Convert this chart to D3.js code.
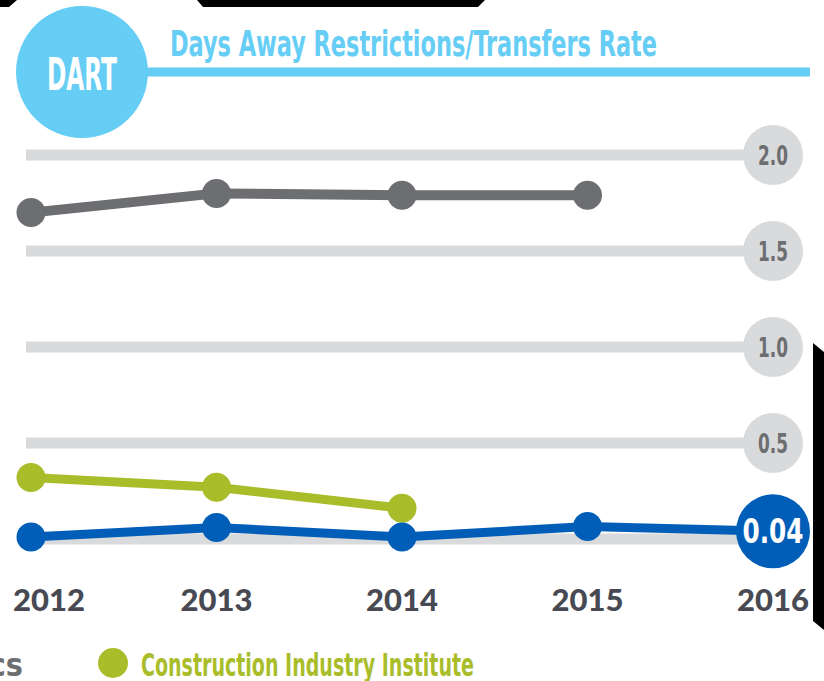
<!DOCTYPE html>
<html><head><meta charset="utf-8">
<script src="https://cdn.jsdelivr.net/npm/d3@7/dist/d3.min.js"></script>
<style>
html,body{margin:0;padding:0;background:#fff;overflow:hidden;}
svg{display:block;}
.cond{font-family:"Liberation Sans Narrow","DejaVu Sans Condensed","Roboto Condensed","Arial Narrow",sans-serif;font-stretch:condensed;font-weight:bold;}
</style></head>
<body><svg id="c" width="824" height="681"></svg>
<script>
const years = [2012, 2013, 2014, 2015, 2016];
const tickValues = [0, 0.5, 1.0, 1.5, 2.0];
const tickLabels = ["", "0.5", "1.0", "1.5", "2.0"];
const blsValues = [1.70, 1.80, 1.79, 1.79];          // Bureau of Labor Statistics (2012-2015)
const ciiValues = [0.32, 0.27, 0.16];                // Construction Industry Institute (2012-2014)
const companyValues = [0.01, 0.06, 0.01, 0.065, 0.04]; // company DART (2012-2016)
const seriesNames = ["Bureau of Labor Statistics", "Construction Industry Institute"];
const title = "Days Away Restrictions/Transfers Rate";
const badgeLabel = "DART";
const latestLabel = "0.04";

const C = {lightBlue:"#66cdf5", grid:"#d9dadc", gray:"#6d6e71", green:"#a9bd2a", blue:"#005eb8", axis:"#474a52"};

const svg = d3.select("#c");
const x = d3.scaleLinear().domain([2012, 2016]).range([31, 773]);
const y = d3.scaleLinear().domain([0, 2]).range([539, 155]);

// decorative dark crop edges
svg.append("path").attr("d","M0,0 L17,0 L9,7 L0,7Z").attr("fill","#000");
svg.append("path").attr("d","M197,0 L485,0 L478,7 L203,7Z").attr("fill","#000");
svg.append("path").attr("d","M813,343 L824,352 L824,630 L813,621Z").attr("fill","#000");

// header
svg.append("line").attr("x1",140).attr("x2",810).attr("y1",72).attr("y2",72)
  .attr("stroke",C.lightBlue).attr("stroke-width",9);
svg.append("circle").attr("cx",82).attr("cy",72).attr("r",66).attr("fill",C.lightBlue);
svg.append("text").attr("class","cond").attr("x",82).attr("y",90).attr("text-anchor","middle")
  .attr("font-size",45).attr("fill","#fff").attr("textLength",70).attr("lengthAdjust","spacingAndGlyphs").text(badgeLabel);
svg.append("text").attr("class","cond").attr("x",170).attr("y",56)
  .attr("font-size",36).attr("fill",C.lightBlue).attr("textLength",487).attr("lengthAdjust","spacingAndGlyphs").text(title);

// gridlines + badges
const grid = svg.append("g");
tickValues.forEach((v,i)=>{
  grid.append("line").attr("x1",26).attr("x2",x(2016)).attr("y1",y(v)).attr("y2",y(v))
    .attr("stroke",C.grid).attr("stroke-width",11);
  if (tickLabels[i]) {
    grid.append("circle").attr("cx",x(2016)).attr("cy",y(v)).attr("r",30).attr("fill",C.grid);
    grid.append("text").attr("class","cond").attr("x",x(2016)).attr("y",y(v)+10).attr("text-anchor","middle")
      .attr("font-size",27).attr("fill",C.gray).attr("textLength",30).attr("lengthAdjust","spacingAndGlyphs").text(tickLabels[i]);
  }
});

function series(vals, color, r, w) {
  const g = svg.append("g");
  const pts = vals.map((v,i)=>[x(years[i]), y(v)]);
  g.append("path").attr("d", d3.line()(pts)).attr("fill","none").attr("stroke",color)
    .attr("stroke-width",w).attr("stroke-linejoin","round");
  g.selectAll("circle").data(pts).join("circle").attr("cx",d=>d[0]).attr("cy",d=>d[1]).attr("r",r).attr("fill",color);
  return g;
}
series(blsValues, C.gray, 14.5, 10);
series(ciiValues, C.green, 14.5, 9);
series(companyValues.slice(0,4), C.blue, 14.5, 9);
// last segment and highlight badge
const last = companyValues.length-1;
svg.append("line").attr("x1",x(years[last-1])).attr("y1",y(companyValues[last-1]))
  .attr("x2",x(years[last])).attr("y2",y(companyValues[last])).attr("stroke",C.blue).attr("stroke-width",9);
svg.append("circle").attr("cx",x(years[last])).attr("cy",y(companyValues[last])).attr("r",37).attr("fill",C.blue);
svg.append("text").attr("class","cond").attr("x",x(years[last])).attr("y",y(companyValues[last])+12).attr("text-anchor","middle")
  .attr("font-size",34).attr("fill","#fff").attr("textLength",61).attr("lengthAdjust","spacingAndGlyphs").text(latestLabel);

// x axis labels
svg.append("g").selectAll("text").data(years).join("text")
  .attr("x",(d,i)=> i===0 ? 13 : x(d))
  .attr("text-anchor",(d,i)=> i===0 ? "start" : "middle")
  .attr("y",611).attr("font-family","Lato, 'Open Sans', sans-serif").attr("font-weight",900)
  .attr("font-size",31).attr("fill",C.axis).text(d=>d);

// legend
svg.append("text").attr("class","cond").attr("x",23).attr("y",676).attr("text-anchor","end")
  .attr("font-size",32).attr("fill",C.gray).text(seriesNames[0]);
svg.append("circle").attr("cx",113).attr("cy",663).attr("r",15).attr("fill",C.green);
svg.append("text").attr("class","cond").attr("x",141).attr("y",676)
  .attr("font-size",32).attr("fill",C.green).attr("textLength",333).attr("lengthAdjust","spacingAndGlyphs").text(seriesNames[1]);
</script></body></html>
